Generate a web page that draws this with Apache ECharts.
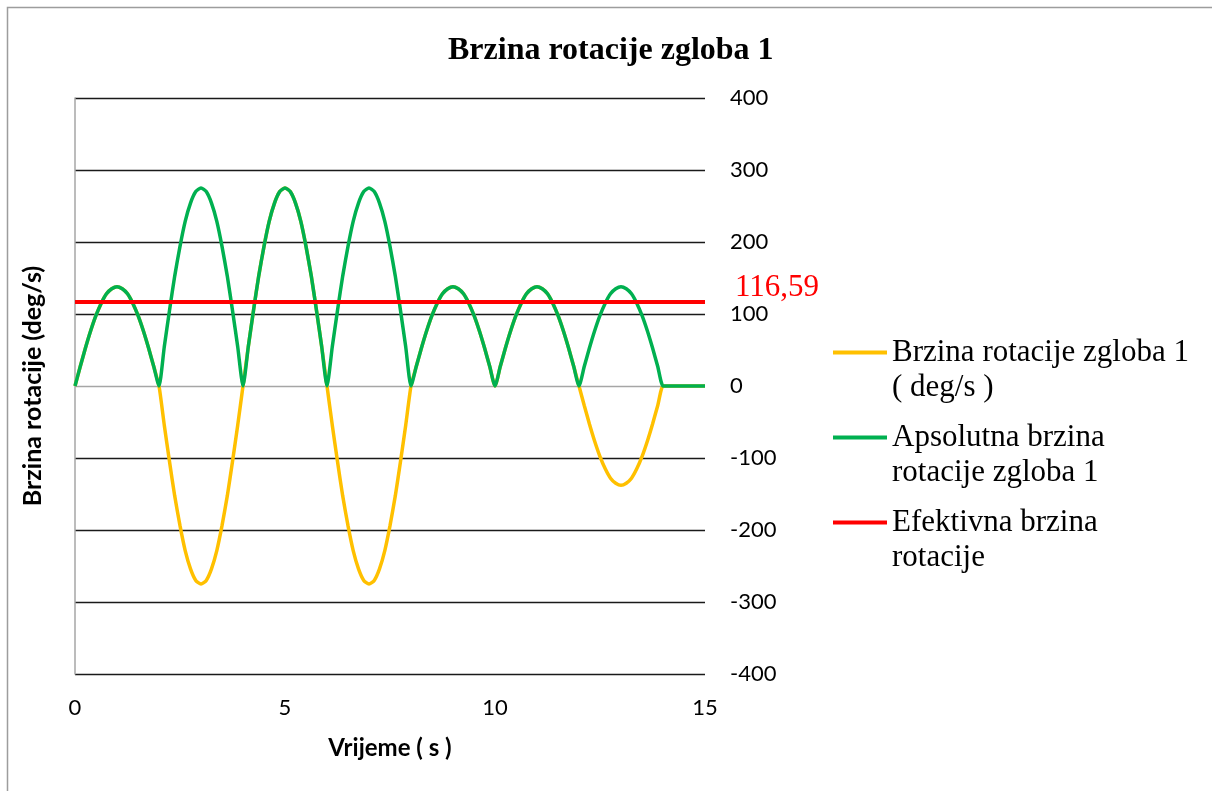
<!DOCTYPE html>
<html>
<head>
<meta charset="utf-8">
<title>Brzina rotacije zgloba 1</title>
<script src="https://cdn.jsdelivr.net/npm/echarts@6/dist/echarts.min.js"></script>
<style>
  html, body { margin: 0; padding: 0; background: #fff; }
  #chart { width: 1212px; height: 791px; }
</style>
</head>
<body>
<div id="chart"></div>
<script>
// Time samples (s)
const time = [
  0, 0.125, 0.25, 0.375, 0.5, 0.625, 0.75, 0.875, 1, 1.125, 1.25, 1.375, 1.5, 1.625, 1.75, 1.875,
  2, 2.125, 2.25, 2.375, 2.5, 2.625, 2.75, 2.875, 3, 3.125, 3.25, 3.375, 3.5, 3.625, 3.75, 3.875,
  4, 4.125, 4.25, 4.375, 4.5, 4.625, 4.75, 4.875, 5, 5.125, 5.25, 5.375, 5.5, 5.625, 5.75, 5.875,
  6, 6.125, 6.25, 6.375, 6.5, 6.625, 6.75, 6.875, 7, 7.125, 7.25, 7.375, 7.5, 7.625, 7.75, 7.875,
  8, 8.125, 8.25, 8.375, 8.5, 8.625, 8.75, 8.875, 9, 9.125, 9.25, 9.375, 9.5, 9.625, 9.75, 9.875,
  10, 10.125, 10.25, 10.375, 10.5, 10.625, 10.75, 10.875, 11, 11.125, 11.25, 11.375, 11.5, 11.625, 11.75, 11.875,
  12, 12.125, 12.25, 12.375, 12.5, 12.625, 12.75, 12.875, 13, 13.125, 13.25, 13.375, 13.5, 13.625, 13.75, 13.875,
  14, 14.125, 14.25, 14.375, 14.5, 14.625, 14.75, 14.875, 15
];

// Joint 1 rotation speed (deg/s), signed
const speed = [
  0, 27, 53, 77, 98, 115, 128, 135, 138, 135, 128, 115, 98, 77, 53, 27,
  0, -54, -105, -153, -194, -229, -254, -270, -275, -270, -254, -229, -194, -153, -105, -54,
  0, 54, 105, 153, 194, 229, 254, 270, 275, 270, 254, 229, 194, 153, 105, 54,
  0, -54, -105, -153, -194, -229, -254, -270, -275, -270, -254, -229, -194, -153, -105, -54,
  0, 27, 53, 77, 98, 115, 128, 135, 138, 135, 128, 115, 98, 77, 53, 27,
  0, 27, 53, 77, 98, 115, 128, 135, 138, 135, 128, 115, 98, 77, 53, 27,
  0, -27, -53, -77, -98, -115, -128, -135, -138, -135, -128, -115, -98, -77, -53, -27,
  0, 0, 0, 0, 0, 0, 0, 0, 0
];

// Joint 1 absolute rotation speed (deg/s)
const absSpeed = [
  0, 27, 53, 77, 98, 115, 128, 135, 138, 135, 128, 115, 98, 77, 53, 27,
  0, 54, 105, 153, 194, 229, 254, 270, 275, 270, 254, 229, 194, 153, 105, 54,
  0, 54, 105, 153, 194, 229, 254, 270, 275, 270, 254, 229, 194, 153, 105, 54,
  0, 54, 105, 153, 194, 229, 254, 270, 275, 270, 254, 229, 194, 153, 105, 54,
  0, 27, 53, 77, 98, 115, 128, 135, 138, 135, 128, 115, 98, 77, 53, 27,
  0, 27, 53, 77, 98, 115, 128, 135, 138, 135, 128, 115, 98, 77, 53, 27,
  0, 27, 53, 77, 98, 115, 128, 135, 138, 135, 128, 115, 98, 77, 53, 27,
  0, 0, 0, 0, 0, 0, 0, 0, 0
];

// Effective (RMS) rotation speed (deg/s)
const effectiveSpeed = 116.59;
const effectiveRange = [0, 15];

const xTicks = [0, 5, 10, 15];
const yTicks = [-400, -300, -200, -100, 0, 100, 200, 300, 400];

const seriesNames = [
  'Brzina rotacije zgloba 1\n( deg/s )',
  'Apsolutna brzina\nrotacije zgloba 1',
  'Efektivna brzina\nrotacije'
];

const pairs = (xs, ys) => xs.map((x, i) => [x, ys[i]]);

const SERIF = '"Liberation Serif", "Times New Roman", serif';
const SANS = 'Lato, "Open Sans", sans-serif';

const chart = echarts.init(document.getElementById('chart'));

const option = {
  animation: false,
  backgroundColor: '#fff',
  graphic: [{
    type: 'rect',
    silent: true,
    shape: { x: 7.5, y: 7.5, width: 1400, height: 1000 },
    style: { fill: 'none', stroke: '#9d9d9d', lineWidth: 1.5 }
  }],
  title: {
    text: 'Brzina rotacije zgloba 1',
    left: 443,
    top: 30,
    textStyle: { fontFamily: SERIF, fontWeight: 'bold', fontSize: 32, color: '#000' }
  },
  legend: {
    orient: 'vertical',
    left: 833,
    top: 300,
    padding: 0,
    icon: 'rect',
    itemWidth: 54,
    itemHeight: 4,
    itemGap: -20,
    data: seriesNames,
    // leading blank line keeps the swatch level with the first text line
    formatter: name => '\n' + name,
    textStyle: {
      fontFamily: SERIF,
      fontSize: 31,
      lineHeight: 35,
      color: '#000'
    }
  },
  grid: { left: 75, right: 507, top: 98, bottom: 117, containLabel: false },
  xAxis: {
    type: 'value',
    min: xTicks[0],
    max: xTicks[xTicks.length - 1],
    interval: xTicks[1] - xTicks[0],
    axisLine: { show: false, onZero: false },
    axisTick: { show: false },
    splitLine: { show: false },
    axisLabel: { fontFamily: SANS, fontSize: 22, color: '#000', margin: 23 },
    name: 'Vrijeme ( s )',
    nameLocation: 'middle',
    nameGap: 62,
    nameTextStyle: { fontFamily: SANS, fontWeight: 'bold', fontSize: 24, color: '#000' }
  },
  yAxis: [{
    type: 'value',
    position: 'right',
    min: yTicks[0],
    max: yTicks[yTicks.length - 1],
    interval: yTicks[1] - yTicks[0],
    axisLine: { show: false },
    axisTick: { show: false },
    axisLabel: { fontFamily: SANS, fontSize: 22, color: '#000', margin: 25 },
    splitLine: {
      show: true,
      lineStyle: {
        width: 1.3,
        color: yTicks.map(v => (v === 0 ? '#a6a6a6' : '#1a1a1a'))
      }
    }
  }, {
    type: 'value',
    position: 'left',
    min: yTicks[0],
    max: yTicks[yTicks.length - 1],
    interval: yTicks[1] - yTicks[0],
    axisLine: { show: true, onZero: false, lineStyle: { color: '#a6a6a6', width: 1.5 } },
    axisTick: { show: false },
    axisLabel: { show: false },
    splitLine: { show: false },
    name: 'Brzina rotacije (deg/s)',
    nameLocation: 'middle',
    nameGap: 30,
    nameTextStyle: { fontFamily: SANS, fontWeight: 'bold', fontSize: 25, color: '#000' }
  }],
  series: [{
    name: seriesNames[0],
    type: 'line',
    yAxisIndex: 0,
    data: pairs(time, speed),
    symbol: 'none',
    smooth: 0.2,
    lineStyle: { color: '#FFC000', width: 3.5 },
    itemStyle: { color: '#FFC000' },
    z: 2
  }, {
    name: seriesNames[1],
    type: 'line',
    yAxisIndex: 0,
    data: pairs(time, absSpeed),
    symbol: 'none',
    smooth: 0.2,
    lineStyle: { color: '#00B050', width: 3.5 },
    itemStyle: { color: '#00B050' },
    z: 3
  }, {
    name: seriesNames[2],
    type: 'line',
    yAxisIndex: 0,
    data: effectiveRange.map(x => [x, effectiveSpeed]),
    symbol: 'none',
    lineStyle: { color: '#FF0000', width: 4 },
    itemStyle: { color: '#FF0000' },
    z: 4,
    endLabel: {
      show: true,
      formatter: p => String(p.value[1]).replace('.', ','),
      color: '#FF0000',
      fontFamily: SERIF,
      fontSize: 31,
      offset: [22, -14]
    }
  }]
};

chart.setOption(option);
</script>
</body>
</html>
